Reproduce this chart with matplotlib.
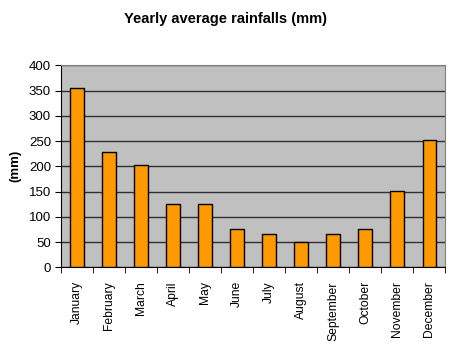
import matplotlib
matplotlib.use('Agg')
import matplotlib.pyplot as plt
import numpy as np

plt.rcParams['font.family'] = ['Liberation Sans', 'DejaVu Sans']

months = ['January', 'February', 'March', 'April', 'May', 'June', 'July',
          'August', 'September', 'October', 'November', 'December']
rainfall = [355, 228, 203, 126, 126, 75, 65, 51, 65, 75, 152, 253]

fig = plt.figure(figsize=(4.5, 3.52), dpi=100)
ax = fig.add_axes([0.135, 0.2406, 0.8545, 0.574])
ax.set_facecolor('#C0C0C0')

x = np.arange(len(months))
ax.bar(x, rainfall, width=0.42, color='#FF9900', edgecolor='black',
       linewidth=1, zorder=3)

ax.set_xlim(-0.5, len(months) - 0.5)
ax.set_ylim(0, 400)
ax.set_yticks(range(0, 401, 50))
ax.yaxis.grid(True, color='#303030', linewidth=1, zorder=0)

ax.set_xticks(x)
ax.set_xticklabels(months, rotation=90, fontsize=8.7)
ax.tick_params(axis='x', length=0, pad=10)
ax.set_xticks(np.arange(-0.5, len(months)), minor=True)
ax.tick_params(axis='x', which='minor', length=4, direction='out', color='black')
ax.tick_params(axis='y', labelsize=9.5, length=4, direction='out', pad=3)

for side in ['top', 'right']:
    ax.spines[side].set_color('#808080')
ax.spines['left'].set_color('black')
ax.spines['bottom'].set_color('black')

ax.set_ylabel('(mm)', fontsize=9.5, fontweight='bold', labelpad=5)
fig.text(0.5, 0.945, 'Yearly average rainfalls (mm)', ha='center', va='center',
         fontsize=10.5, fontweight='bold')

fig.savefig('out.png', dpi=100)
